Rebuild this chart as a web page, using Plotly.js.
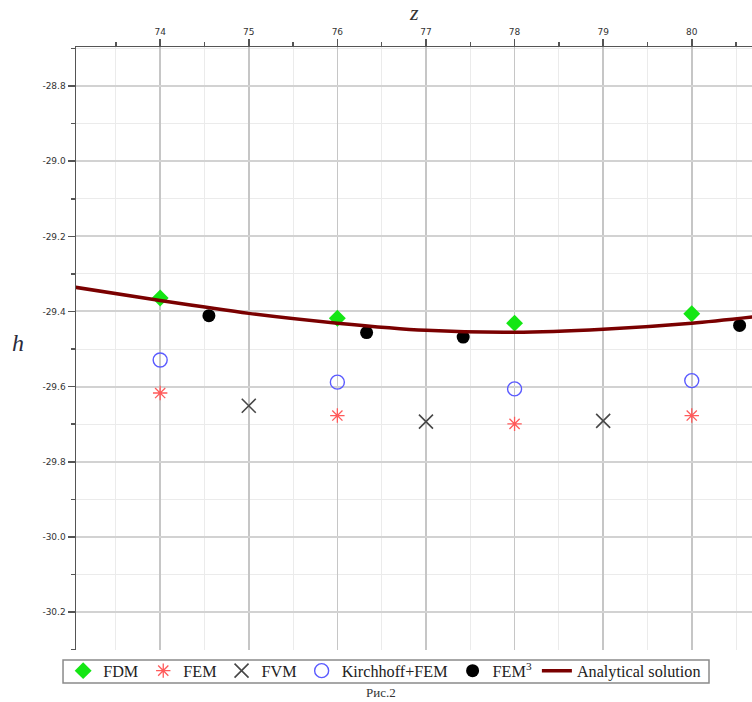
<!DOCTYPE html>
<html>
<head>
<meta charset="utf-8">
<script src="https://cdn.plot.ly/plotly-3.0.1.min.js"></script>
<style>html,body{margin:0;padding:0;background:#fff;}#chart{width:752px;height:702px;}</style>
</head>
<body>
<div id="chart"></div>
<script>
// ---- data ----
const fdmZ = [74, 76, 78, 80];
const fdmH = [-29.364, -29.418, -29.431, -29.406];

const femZ = [74, 76, 78, 80];
const femH = [-29.617, -29.677, -29.699, -29.677];

const fvmZ = [75, 77, 79];
const fvmH = [-29.651, -29.693, -29.691];

const kirZ = [74, 76, 78, 80];
const kirH = [-29.529, -29.588, -29.606, -29.584];

const fem3Z = [74.55, 76.33, 77.42, 80.54];
const fem3H = [-29.411, -29.456, -29.468, -29.437];

const anaZ = [73.0, 74, 75, 76, 77, 78, 79, 80, 80.7];
const anaH = [-29.334, -29.371, -29.405, -29.431, -29.450, -29.455, -29.447, -29.431, -29.414];

const xTickVals = [74, 75, 76, 77, 78, 79, 80];
const xTickText = ['74', '75', '76', '77', '78', '79', '80'];
const yTickVals = [-28.8, -29.0, -29.2, -29.4, -29.6, -29.8, -30.0, -30.2];
const yTickText = ['-28.8', '-29.0', '-29.2', '-29.4', '-29.6', '-29.8', '-30.0', '-30.2'];

const legendNames = ['FDM', 'FEM', 'FVM', 'Kirchhoff+FEM', 'FEM<sup>3</sup>', 'Analytical solution'];

// ---- traces ----
const traces = [
  {x: fdmZ, y: fdmH, name: legendNames[0], mode: 'markers', type: 'scatter',
   marker: {symbol: 'diamond', size: 13, color: '#14e614'}},
  {x: femZ, y: femH, name: legendNames[1], mode: 'markers', type: 'scatter',
   marker: {symbol: 'asterisk-open', size: 12, color: '#ff5a5a', line: {color: '#ff5a5a', width: 1.3}}},
  {x: fvmZ, y: fvmH, name: legendNames[2], mode: 'markers', type: 'scatter',
   marker: {symbol: 'x-thin-open', size: 14, color: '#474747', line: {color: '#474747', width: 1.6}}},
  {x: kirZ, y: kirH, name: legendNames[3], mode: 'markers', type: 'scatter',
   marker: {symbol: 'circle-open', size: 14, color: '#5a5aff', line: {color: '#5a5aff', width: 1.4}}},
  {x: fem3Z, y: fem3H, name: legendNames[4], mode: 'markers', type: 'scatter',
   marker: {symbol: 'circle', size: 13, color: '#000000'}},
  {x: anaZ, y: anaH, name: legendNames[5], mode: 'lines', type: 'scatter',
   line: {color: '#7a0000', width: 3.5, shape: 'spline', smoothing: 0.8}}
];

const serif = 'Liberation Serif, Times New Roman, serif';

const layout = {
  width: 752, height: 702,
  margin: {l: 76, r: 0, t: 47, b: 52, pad: 0},
  paper_bgcolor: '#ffffff', plot_bgcolor: '#ffffff',
  showlegend: true,
  legend: {
    orientation: 'h', x: -0.019, xanchor: 'left', y: -0.006, yanchor: 'top',
    bgcolor: 'rgba(0,0,0,0)', borderwidth: 0,
    font: {family: serif, size: 16.2, color: '#222'},
    itemwidth: 30, tracegroupgap: 0
  },
  shapes: [
    {type: 'rect', xref: 'paper', yref: 'paper', x0: -0.0192, x1: 0.9364, y0: -0.0547, y1: -0.0166,
     line: {color: '#8a8a8a', width: 1.5}, fillcolor: '#ffffff', layer: 'above'}
  ],
  xaxis: {
    side: 'top', range: [73.05, 80.68],
    tickmode: 'array', tickvals: xTickVals, ticktext: xTickText,
    ticks: 'outside', ticklen: 7, tickwidth: 1.5, tickcolor: '#555',
    tickfont: {family: 'DejaVu Sans, sans-serif', size: 9, color: '#333'},
    showline: true, linecolor: '#555', linewidth: 1.5,
    showgrid: true, gridcolor: '#c6c6c6', gridwidth: 1.5,
    zeroline: false,
    minor: {dtick: 0.5, tick0: 74, ticks: 'outside', ticklen: 4, tickwidth: 1.5, tickcolor: '#555',
            showgrid: true, gridcolor: '#ebebeb', gridwidth: 1}
  },
  yaxis: {
    range: [-30.301, -28.696],
    tickmode: 'array', tickvals: yTickVals, ticktext: yTickText,
    ticks: 'outside', ticklen: 7, tickwidth: 1.5, tickcolor: '#555',
    tickfont: {family: 'DejaVu Sans, sans-serif', size: 9, color: '#333'},
    showline: true, linecolor: '#555', linewidth: 1.5,
    showgrid: true, gridcolor: '#d2d2d2', gridwidth: 2,
    zeroline: false,
    minor: {dtick: 0.1, tick0: -28.8, ticks: 'outside', ticklen: 4, tickwidth: 1.5, tickcolor: '#555',
            showgrid: true, gridcolor: '#ebebeb', gridwidth: 1}
  },
  annotations: [
    {text: '<i>z</i>', xref: 'paper', yref: 'paper', x: 0.5, y: 1.058, xanchor: 'center', yanchor: 'middle',
     showarrow: false, font: {family: serif, size: 22, color: '#333'}},
    {text: '<i>h</i>', xref: 'paper', yref: 'paper', x: -0.0858, y: 0.509, xanchor: 'center', yanchor: 'middle',
     showarrow: false, font: {family: serif, size: 24, color: '#2a2a3a'}},
    {text: 'Рис.2', xref: 'paper', yref: 'paper', x: 0.451, y: -0.0697, xanchor: 'center', yanchor: 'middle',
     showarrow: false, font: {family: serif, size: 13, color: '#333'}}
  ]
};

Plotly.newPlot('chart', traces, layout, {displayModeBar: false, staticPlot: true});
</script>
</body>
</html>
